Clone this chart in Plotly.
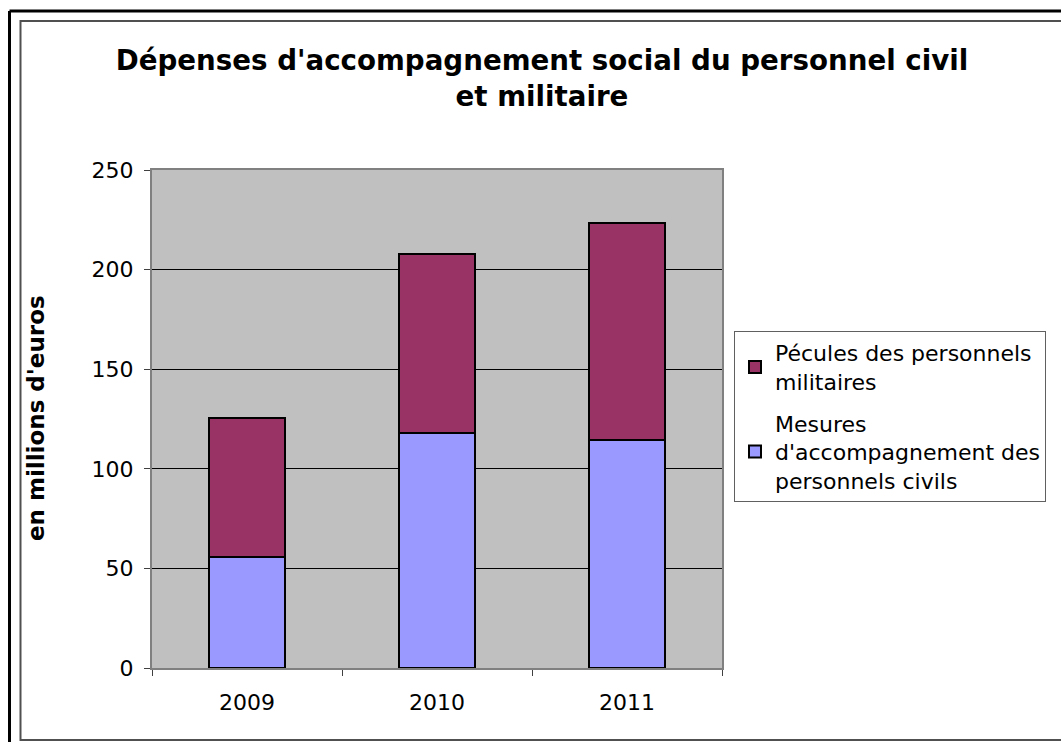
import plotly.graph_objects as go

# Dépenses d'accompagnement social (en millions d'euros)
annees = ["2009", "2010", "2011"]
mesures_civils = [55.5, 118, 114.5]
pecules_militaires = [70, 90, 109]
y_ticks = [0, 50, 100, 150, 200, 250]

W, H = 1061, 742
L, R, T, B = 152, 339, 170, 74
PW, PH = W - L - R, H - T - B

def px_x(x):
    return (x - L) / PW

def px_y(y):
    return (H - B - y) / PH

FONT = "DejaVu Sans"

fig = go.Figure()
fig.add_trace(go.Bar(
    x=annees, y=mesures_civils,
    name="Mesures<br>d'accompagnement des<br>personnels civils",
    marker=dict(color="#9999FF", line=dict(color="black", width=2)),
    legendgroup="civ", legendrank=2,
))
fig.add_trace(go.Bar(
    x=annees, y=pecules_militaires,
    name="Pécules des personnels<br>militaires",
    marker=dict(color="#993366", line=dict(color="black", width=2)),
    legendgroup="mil", legendrank=1,
))

fig.update_layout(
    width=W, height=H,
    margin=dict(l=L, r=R, t=T, b=B, autoexpand=False),
    paper_bgcolor="white",
    plot_bgcolor="#C0C0C0",
    barmode="stack",
    bargap=0.6,
    font=dict(family=FONT, color="black", size=22),
    title=dict(
        text="<b>Dépenses d'accompagnement social du personnel civil<br>et militaire</b>",
        font=dict(family=FONT, size=27.7, color="black"),
        xref="container", yref="container",
        x=542 / W, xanchor="center",
        y=1 - 70 / H, yanchor="top",
    ),
    legend=dict(
        x=px_x(734), xanchor="left",
        y=px_y(331), yanchor="top",
        bordercolor="#606060", borderwidth=1,
        bgcolor="white",
        font=dict(family=FONT, size=22, color="black"),
        traceorder="grouped",
        tracegroupgap=10,
    ),
    xaxis=dict(
        type="category",
        tickson="boundaries",
        ticks="outside", ticklen=6, tickcolor="#404040", tickwidth=1,
        showline=True, linecolor="#808080", linewidth=2, mirror=True,
        showgrid=False,
        ticklabelstandoff=14,
        tickfont=dict(family=FONT, size=22),
    ),
    yaxis=dict(
        range=[0, 250],
        tickvals=y_ticks,
        ticks="outside", ticklen=6, tickcolor="#404040", tickwidth=1,
        showline=True, linecolor="#808080", linewidth=2, mirror=True,
        showgrid=True, gridcolor="black", gridwidth=1,
        zeroline=False,
        ticklabelstandoff=6,
        tickfont=dict(family=FONT, size=22),
    ),
    annotations=[dict(
        text="<b>en millions d'euros</b>",
        xref="paper", yref="paper",
        x=px_x(36), y=px_y(418),
        xanchor="center", yanchor="middle",
        textangle=-90, showarrow=False,
        font=dict(family=FONT, size=23, color="black"),
    )],
    shapes=[
        # outer frame
        dict(type="line", xref="paper", yref="paper",
             x0=px_x(9.5), x1=px_x(1200), y0=px_y(11), y1=px_y(11),
             line=dict(color="black", width=3)),
        dict(type="line", xref="paper", yref="paper",
             x0=px_x(9.5), x1=px_x(9.5), y0=px_y(11), y1=px_y(800),
             line=dict(color="black", width=3)),
        # inner frame
        dict(type="rect", xref="paper", yref="paper",
             x0=px_x(20.5), x1=px_x(1200), y0=px_y(21), y1=px_y(740),
             line=dict(color="#505050", width=2), layer="below"),
    ],
)

fig.write_html("out.html")
